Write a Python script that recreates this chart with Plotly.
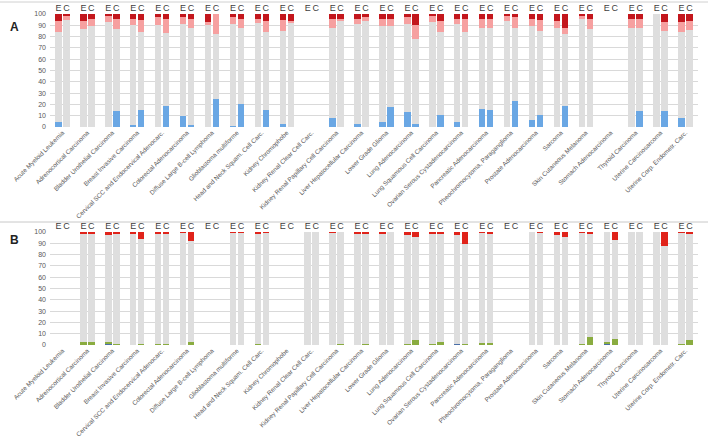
import plotly.graph_objects as go

categories = ["Acute Myeloid Leukemia", "Adrenocortical Carcinoma", "Bladder Urothelial Carcinoma",
              "Breast Invasive Carcinoma", "Cervical SCC and Endocervical Adenocarc.",
              "Colorectal Adenocarcinoma", "Diffuse Large B-cell Lymphoma", "Glioblastoma multiforme",
              "Head and Neck Squam. Cell Carc.", "Kidney Chromophobe", "Kidney Renal Clear Cell Carc.",
              "Kidney Renal Papillary Cell Carcinoma", "Liver Hepatocellular Carcinoma",
              "Lower Grade Glioma", "Lung Adenocarcinoma", "Lung Squamous Cell Carcinoma",
              "Ovarian Serous Cystadenocarcinoma", "Pancreatic Adenocarcinoma",
              "Pheochromocytoma, Paraganglioma", "Prostate Adenocarcinoma", "Sarcoma",
              "Skin Cutaneous Melanoma", "Stomach Adenocarcinoma", "Thyroid Carcinoma",
              "Uterine Carcinosarcoma", "Uterine Corp. Endometr. Carc."]
bar_labels = ["E", "C"]
y_ticks = [0, 10, 20, 30, 40, 50, 60, 70, 80, 90, 100]

# Panel A (E bars / C bars): blue, gray, pink, dark red
a_blue_E = [4, 0, 0, 2, 0, 10, 0, 1, 0, 3, 0, 8, 3, 4, 13, 0, 4, 16, 0, 6, 0, 0, 0, 0, 0, 8]
a_gray_E = [80, 87, 93, 88, 90, 81, 90, 90, 92, 82, 0, 80, 88, 85, 78, 93, 87, 72, 94, 83, 88, 96, 0, 88, 100, 76]
a_pink_E = [10, 7, 5, 6, 7, 6, 3, 6, 4, 10, 0, 8, 5, 7, 6, 5, 5, 8, 5, 7, 6, 3, 0, 8, 0, 9]
a_red_E = [6, 6, 2, 4, 3, 3, 7, 3, 4, 5, 0, 4, 4, 4, 3, 2, 4, 4, 1, 4, 6, 1, 0, 4, 0, 7]

a_blue_C = [0, 0, 14, 15, 19, 2, 25, 20, 15, 0, 0, 0, 0, 18, 3, 11, 0, 15, 23, 11, 19, 0, 0, 14, 14, 0]
a_gray_C = [95, 89, 73, 69, 64, 86, 57, 68, 69, 92, 0, 94, 94, 71, 75, 73, 84, 73, 65, 74, 63, 87, 0, 74, 71, 86]
a_pink_C = [3, 7, 9, 11, 13, 8, 18, 8, 10, 2, 0, 2, 3, 7, 12, 10, 12, 8, 9, 10, 6, 9, 0, 8, 8, 8]
a_red_C = [2, 4, 4, 5, 4, 4, 0, 4, 6, 6, 0, 4, 3, 4, 10, 6, 4, 4, 3, 5, 12, 4, 0, 4, 7, 6]

# Panel B (E bars / C bars): blue, green, gray, red
b_blue_E = [0, 0, 1, 0, 0, 0, 0, 0, 0, 0, 0, 0, 0, 0, 0, 0.5, 0.7, 0, 0, 0, 0, 0, 1, 0, 0, 0]
b_green_E = [0, 2.5, 2, 0.3, 0.5, 0, 0, 0.3, 1, 0, 0, 0.3, 0.3, 0, 0.5, 0.3, 0, 1.5, 0, 0, 0, 1, 1.5, 0.3, 0, 1]
b_gray_E = [0, 96.5, 94.5, 98.7, 98.5, 99.7, 0, 99.2, 97.8, 0, 100, 99.2, 98.7, 98.5, 96.5, 97.7, 96.3, 98, 0, 100, 97, 98.3, 97.5, 99.7, 100, 98.3]
b_red_E = [0, 1, 2.5, 1, 1, 0.3, 0, 0.5, 1.2, 0, 0, 0.5, 1, 1.5, 3, 1.5, 3, 0.5, 0, 0, 3, 0.7, 0, 0, 0, 0.7]

b_blue_C = [0] * 26
b_green_C = [0, 2.5, 0.5, 0.5, 1, 2.5, 0, 0.3, 0.3, 0, 0, 0.5, 1, 0, 4.5, 3, 0.7, 1.5, 0, 0, 0, 7, 5.5, 0, 0, 4]
b_gray_C = [0, 96.5, 98.5, 93.3, 98, 89.2, 0, 99.2, 99.2, 0, 100, 99.5, 97, 100, 91.5, 96, 88.3, 97, 0, 99.3, 96, 91.5, 87.5, 100, 87.5, 94]
b_red_C = [0, 1, 1, 6.2, 1, 8.3, 0, 0.5, 0.5, 0, 0, 0, 2, 0, 4, 1, 11, 1.5, 0, 0.7, 4, 1.5, 7, 0, 12.5, 2]

n = len(categories)
idx = list(range(1, n + 1))
OFF = 0.16
W = 0.26
xE = [k - OFF for k in idx]
xC = [k + OFF for k in idx]
xs = xE + xC
ec_text = [bar_labels[0]] * n + [bar_labels[1]] * n

fig = go.Figure()

def add_stack(E, C, color, xa, ya):
    fig.add_trace(go.Bar(x=xs, y=E + C, width=[W] * (2 * n), marker=dict(color=color, line=dict(width=0)),
                         xaxis=xa, yaxis=ya, showlegend=False, hoverinfo="skip"))

add_stack(a_blue_E, a_blue_C, "#6aa7e4", "x", "y")
add_stack(a_gray_E, a_gray_C, "#dedede", "x", "y")
add_stack(a_pink_E, a_pink_C, "#f6a0a0", "x", "y")
add_stack(a_red_E, a_red_C, "#c3161c", "x", "y")

add_stack(b_blue_E, b_blue_C, "#4a6fa8", "x2", "y2")
add_stack(b_green_E, b_green_C, "#8aac40", "x2", "y2")
add_stack(b_gray_E, b_gray_C, "#dedede", "x2", "y2")
add_stack(b_red_E, b_red_C, "#e0231a", "x2", "y2")

# invisible traces so the top E/C axes are drawn
fig.add_trace(go.Scatter(x=xs, y=[50] * (2 * n), mode="markers", marker=dict(opacity=0),
                         xaxis="x3", yaxis="y", showlegend=False, hoverinfo="skip"))
fig.add_trace(go.Scatter(x=xs, y=[50] * (2 * n), mode="markers", marker=dict(opacity=0),
                         xaxis="x4", yaxis="y2", showlegend=False, hoverinfo="skip"))

H = 441.0
xdom = [50 / 708, 698 / 708]
xcommon = dict(range=[0.5, n + 0.5], tickmode="array", tickvals=idx, ticktext=categories,
               tickangle=-45, tickfont=dict(size=6.3, color="#595959", family="Liberation Sans"),
               showgrid=False, zeroline=False, showline=False, ticks="", domain=xdom, automargin=False)
xtop = dict(range=[0.5, n + 0.5], tickmode="array", tickvals=xs, ticktext=ec_text, side="top",
            tickfont=dict(size=9, color="#404040", family="Liberation Sans"),
            showgrid=False, zeroline=False, showline=False, ticks="", automargin=False, ticklabelstandoff=0)
ycommon = dict(range=[0, 100], tickmode="array", tickvals=y_ticks,
               tickfont=dict(size=7, color="#595959", family="Liberation Sans"),
               showgrid=True, gridcolor="#d9d9d9", gridwidth=1, zeroline=False, showline=False, ticks="",
               automargin=False, ticklabelstandoff=3)

fig.update_layout(
    width=708, height=441,
    margin=dict(l=0, r=0, t=0, b=0, autoexpand=False),
    paper_bgcolor="white", plot_bgcolor="white",
    barmode="stack", bargap=0,
    xaxis=dict(**xcommon, anchor="y"),
    yaxis=dict(**ycommon, domain=[1 - 127 / H, 1 - 14 / H], anchor="x"),
    xaxis2=dict(**xcommon, anchor="y2"),
    yaxis2=dict(**ycommon, domain=[1 - 345 / H, 1 - 232 / H], anchor="x2"),
    xaxis3=dict(**xtop, overlaying="x", anchor="y"),
    xaxis4=dict(**xtop, overlaying="x2", anchor="y2"),
    annotations=[
        dict(text="<b>A</b>", x=8 / 708, y=1 - 18 / H, xref="paper", yref="paper", showarrow=False,
             xanchor="left", font=dict(size=12, color="#222222", family="Liberation Sans")),
        dict(text="<b>B</b>", x=8 / 708, y=1 - 240 / H, xref="paper", yref="paper", showarrow=False,
             xanchor="left", font=dict(size=12, color="#222222", family="Liberation Sans")),
    ],
    shapes=[
        dict(type="line", xref="paper", yref="paper", x0=0, x1=1, y0=1 - 2 / H, y1=1 - 2 / H,
             line=dict(color="#d0d0d0", width=1)),
        dict(type="line", xref="paper", yref="paper", x0=0, x1=1, y0=1 - 222 / H, y1=1 - 222 / H,
             line=dict(color="#c8c8c8", width=1)),
    ],
)

fig.write_html("out.html", config={"displayModeBar": False},
               post_script="document.body.style.margin='0';document.body.style.overflow='hidden';")
